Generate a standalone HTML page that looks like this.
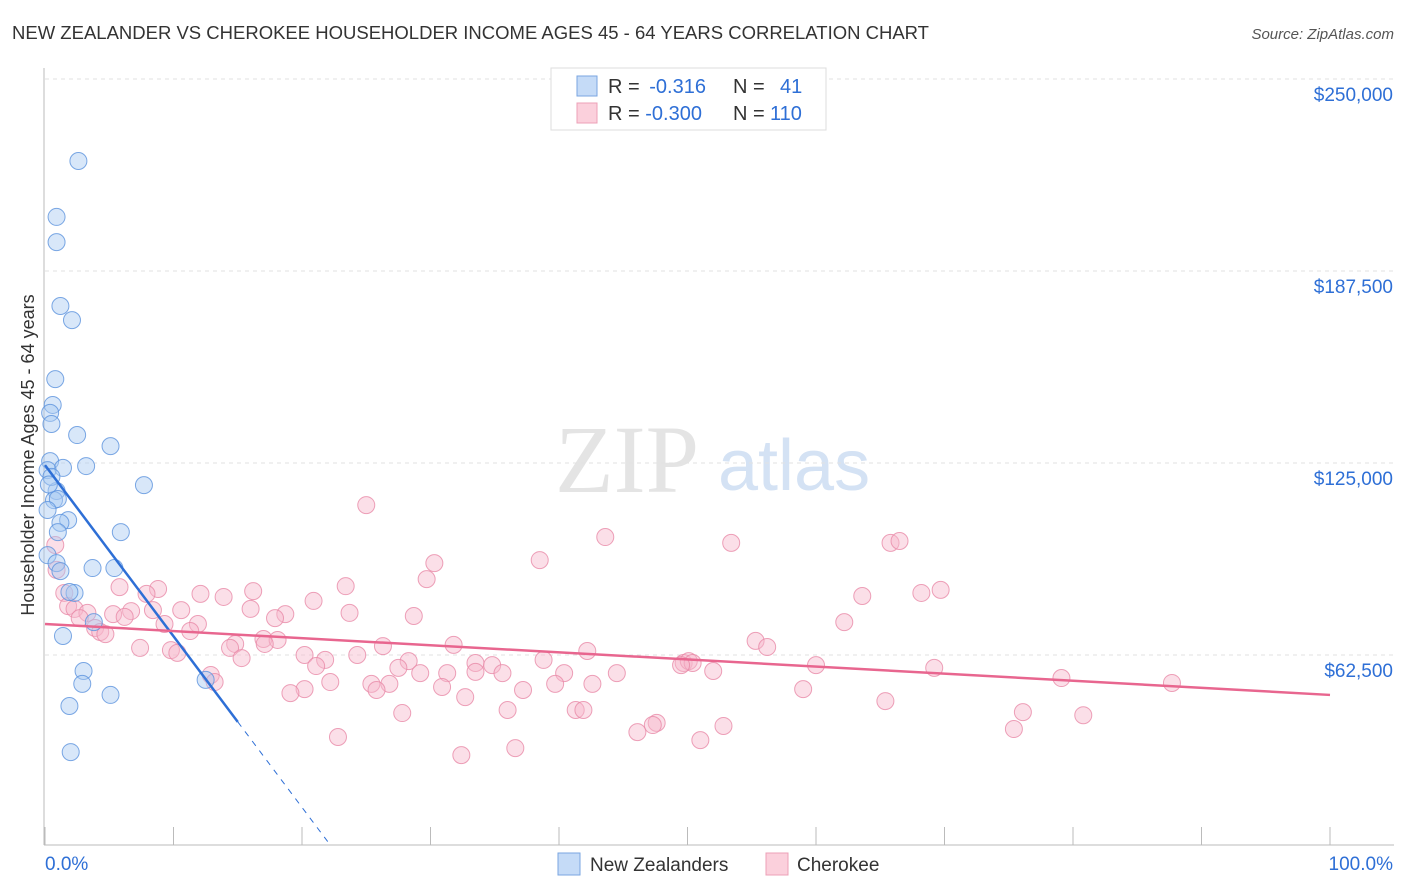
<!DOCTYPE html>
<html><head><meta charset="utf-8"><style>
body{margin:0;background:#fff;font-family:"Liberation Sans",sans-serif}
</style></head><body>
<svg id="c" width="1406" height="892" style="display:block">
<text x="12" y="39" font-size="18.5" fill="#333">NEW ZEALANDER VS CHEROKEE HOUSEHOLDER INCOME AGES 45 - 64 YEARS CORRELATION CHART</text>
<text x="1394" y="39" font-size="15" fill="#555" font-style="italic" text-anchor="end">Source: ZipAtlas.com</text>
<text x="555" y="492" font-size="96" fill="#e4e4e4" font-family="Liberation Serif">ZIP</text>
<text x="718" y="490" font-size="72" fill="#d4e2f4">atlas</text>
<text transform="translate(34,455) rotate(-90)" font-size="18" fill="#333" text-anchor="middle">Householder Income Ages 45 - 64 years</text>
<g id="grid"></g><g id="pts"></g><g id="lines"></g>
<g>
<rect x="551" y="68" width="275" height="62" fill="#fff" stroke="#ddd"/>
<rect x="577" y="76" width="20" height="20" fill="#c5dbf7" stroke="#7aa6e0"/>
<rect x="577" y="103" width="20" height="20" fill="#fbd0dc" stroke="#eda0b7"/>
<text x="608" y="93" font-size="20" fill="#333">R = <tspan fill="#2e6fd6">&#8201;-0.316</tspan><tspan x="733">N = </tspan><tspan x="780" fill="#2e6fd6">41</tspan></text>
<text x="608" y="120" font-size="20" fill="#333">R = <tspan fill="#2e6fd6">-0.300</tspan><tspan x="733">N = </tspan><tspan x="770" fill="#2e6fd6">110</tspan></text>
</g>
<g>
<rect x="558" y="853" width="22" height="22" fill="#c5dbf7" stroke="#7aa6e0"/>
<text x="590" y="871" font-size="19" fill="#333">New Zealanders</text>
<rect x="766" y="853" width="22" height="22" fill="#fbd0dc" stroke="#eda0b7"/>
<text x="797" y="871" font-size="19" fill="#333">Cherokee</text>
</g>
<text x="45" y="870" font-size="19" fill="#2e6fd6">0.0%</text>
<text x="1393" y="870" font-size="19" fill="#2e6fd6" text-anchor="end">100.0%</text>
</svg>
<script>
const yTicks=[62500,125000,187500,250000];
const yTickLabels=["$62,500","$125,000","$187,500","$250,000"];
const blueX=[2.6,0.9,0.9,1.2,2.1,0.8,0.6,0.4,0.5,2.5,5.1,3.2,0.4,1.4,0.2,7.7,0.9,0.7,1.0,1.8,1.2,0.2,5.9,1.0,0.2,0.9,1.2,3.7,5.4,2.3,1.9,3.8,1.4,3.0,2.9,5.1,1.9,2.0,12.5,0.5,0.3];
const blueY=[223.3,205.1,196.9,176.1,171.5,152.3,143.9,141.3,137.7,134.1,130.5,124.0,125.6,123.4,122.7,117.8,115.9,112.9,113.3,106.4,105.5,109.7,102.5,102.5,95.0,92.4,89.8,90.8,90.8,82.7,83.0,73.2,68.7,57.3,53.1,49.5,45.9,30.9,54.4,120.5,118];
const pinkX=[25.0,38.5,43.6,53.4,65.8,66.5,30.3,29.7,23.4,5.8,8.8,16.2,7.9,13.9,12.1,63.6,68.2,69.7,20.9,1.5,1.8,2.3,3.3,5.3,6.7,8.4,10.6,16.0,18.7,23.7,28.7,2.7,6.2,9.3,11.9,17.9,3.9,4.3,4.7,11.3,62.2,55.3,56.2,17.0,18.1,17.1,14.8,14.4,26.3,31.8,7.4,9.8,10.3,15.3,20.2,24.3,28.3,42.2,38.8,21.8,21.1,33.5,34.8,49.7,50.1,50.4,49.5,60.0,69.2,52.0,44.5,40.4,29.2,31.3,27.5,35.6,33.5,12.9,13.2,22.2,26.8,25.4,39.7,42.6,79.1,87.7,20.2,19.1,25.8,30.9,37.2,59.0,32.7,65.4,36.0,41.3,41.9,27.8,76.1,80.8,47.6,47.3,52.8,46.1,75.4,22.8,51.0,36.6,32.4,0.8,0.9];
const pinkY=[111.3,93.4,100.9,99.0,99.0,99.6,92.4,87.2,84.9,84.6,84.0,83.3,82.4,81.4,82.4,81.7,82.7,83.7,80.1,82.7,78.4,77.5,76.2,75.8,76.8,77.1,77.1,77.5,75.8,76.2,75.2,74.5,74.9,72.6,72.6,74.5,71.3,70.0,69.3,70.3,73.2,67.1,65.1,67.7,67.4,66.1,66.1,64.8,65.4,65.8,64.8,64.1,63.2,61.5,62.5,62.5,60.5,63.8,60.9,60.9,58.9,59.9,59.2,59.9,60.5,59.9,59.2,59.2,58.3,57.3,56.6,56.6,56.6,56.6,58.3,56.6,57.0,56.0,53.7,53.7,53.1,53.1,53.1,53.1,55.0,53.4,51.4,50.1,51.1,52.1,51.1,51.4,48.8,47.5,44.6,44.6,44.6,43.6,43.9,42.9,40.4,39.7,39.4,37.4,38.4,35.8,34.8,32.2,29.9,98.3,90.2];
const blueTrend=[124.3,-5.57]; // intercept (k$), slope per %
const pinkTrend=[72.6,-0.231];
const NS="http://www.w3.org/2000/svg";
const X=p=>45+p*12.85, Y=v=>655-(v-62500)*192/62500;
function mk(t,a,parent){const e=document.createElementNS(NS,t);for(const k in a)e.setAttribute(k,a[k]);parent.appendChild(e);return e;}
const grid=document.getElementById('grid'),pts=document.getElementById('pts'),lines=document.getElementById('lines');
yTicks.forEach((v,i)=>{
 const l=mk('line',{x1:45,x2:1394,y1:Y(v),y2:Y(v),stroke:'#e2e2e2','stroke-dasharray':'4,4'},grid);
 
 
 const t=mk('text',{x:1393,y:Y(v)+22,'font-size':19,fill:'#2e6fd6','text-anchor':'end'},grid);t.textContent=yTickLabels[i];
 
 
});
const ax=mk('line',{x1:44,x2:44,y1:68,y2:845,stroke:'#bbb'},grid);


const bx=mk('line',{x1:44,x2:1394,y1:845,y2:845,stroke:'#bbb'},grid);


for(let i=0;i<=10;i++){const t=mk('line',{x1:X(i*10),x2:X(i*10),y1:827,y2:845,stroke:'#bbb'},grid);
 
 }
function dots(xs,ys,fill,stroke,name){xs.forEach((x,i)=>{const c=mk('circle',{cx:X(x),cy:Y(ys[i]*1000),r:8.5,fill:fill,'fill-opacity':0.45,stroke:stroke,'stroke-width':1,'stroke-opacity':0.8},pts);
 
 });}
dots(pinkX,pinkY,'#f7b8cb','#e88aa8','cherokee-point');
dots(blueX,blueY,'#a9c9f2','#5b92dd','new-zealander-point');
const by=x=>(blueTrend[0]+blueTrend[1]*x)*1000;
let l1=mk('line',{x1:X(0),y1:Y(by(0)),x2:X(15),y2:Y(by(15)),stroke:'#2e6fd6','stroke-width':2.5},lines);


let l2=mk('line',{x1:X(15),y1:Y(by(15)),x2:X(22),y2:Y(by(22)),stroke:'#2e6fd6','stroke-width':1,'stroke-dasharray':'6,6'},lines);


const py=x=>(pinkTrend[0]+pinkTrend[1]*x)*1000;
let l3=mk('line',{x1:X(0),y1:Y(py(0)),x2:X(100),y2:Y(py(100)),stroke:'#e8668f','stroke-width':2.5},lines);


</script>
</body></html>
